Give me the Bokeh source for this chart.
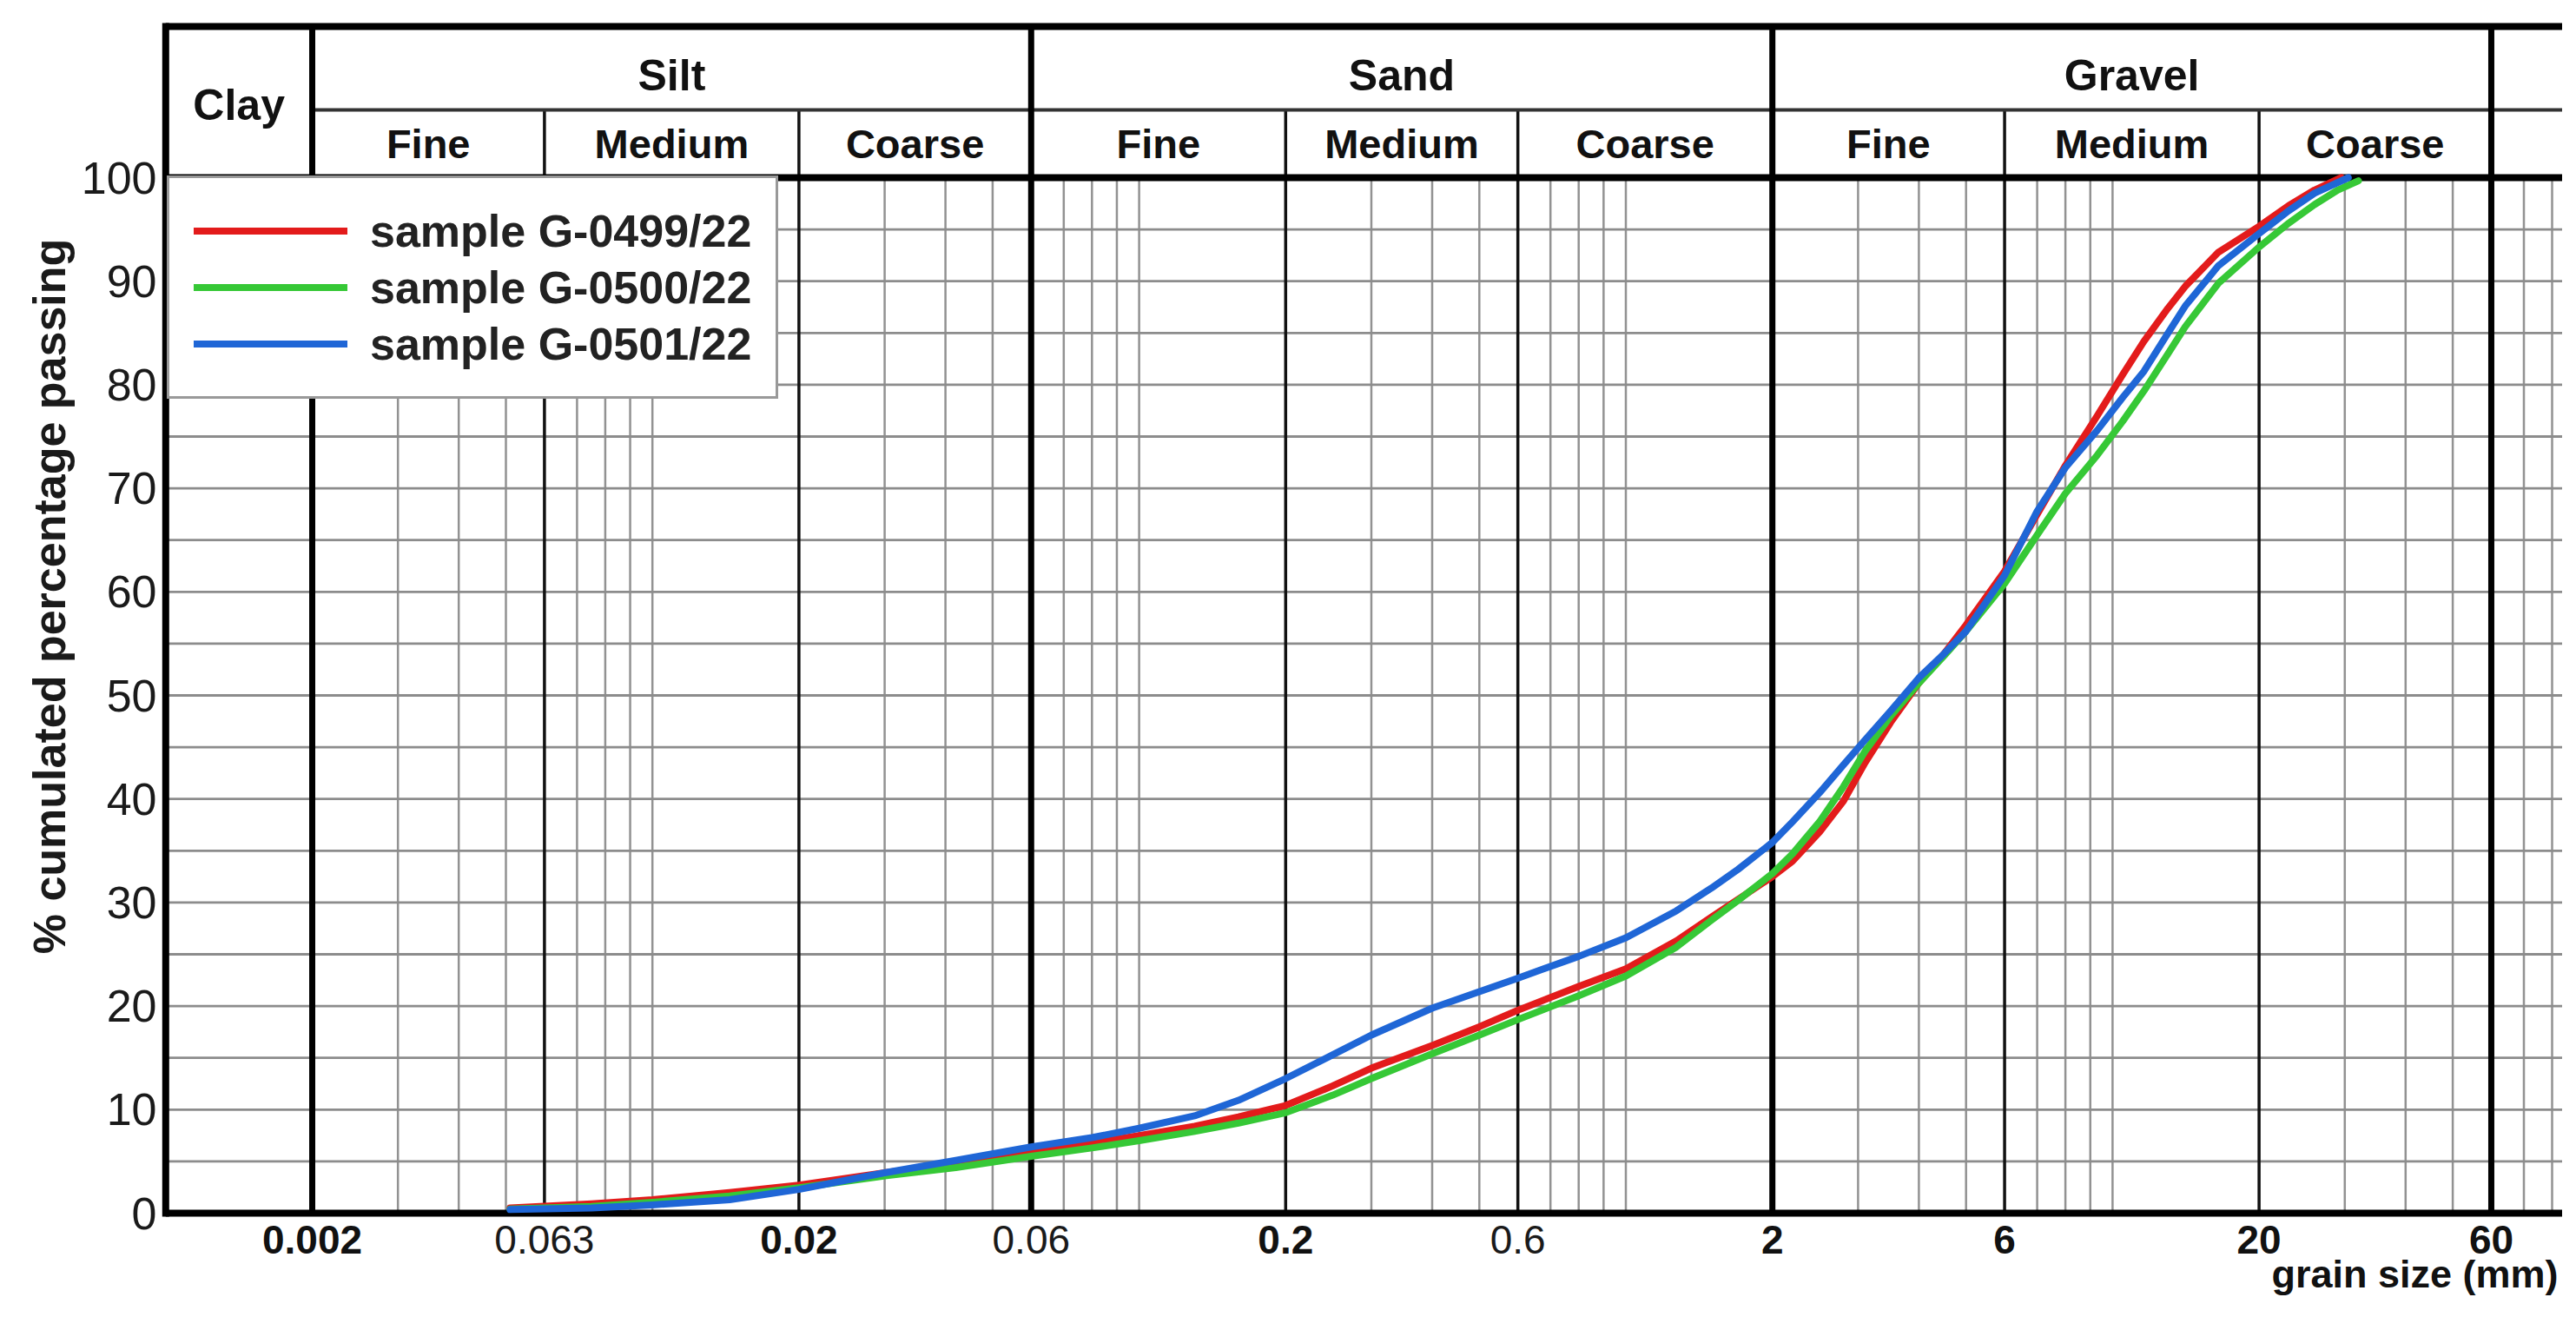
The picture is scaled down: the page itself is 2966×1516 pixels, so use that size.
import math
from bokeh.plotting import figure
from bokeh.models import Range1d, Legend, LegendItem
from bokeh.core.properties import value
from bokeh.embed import file_html
from bokeh.resources import INLINE

# ---------------- data (grain size in mm, cumulated % passing) ----------------
size_red = [0.0051, 0.0075, 0.01, 0.0144, 0.02, 0.03, 0.042, 0.06, 0.08, 0.1, 0.13, 0.16,
            0.2, 0.25, 0.3, 0.4, 0.5, 0.6, 0.8, 1.0, 1.27, 1.5, 1.7, 2.0, 2.2, 2.5, 2.8,
            3.1, 3.5, 4.0, 4.5, 5.0, 6.0, 7.0, 8.0, 9.3, 10.5, 11.6, 13.0, 14.1, 16.5,
            20.0, 23.0, 26.0, 29.5]
pass_red = [0.5, 0.9, 1.3, 2.0, 2.7, 3.9, 4.8, 6.0, 6.8, 7.5, 8.4, 9.3,
            10.4, 12.3, 14.0, 16.2, 18.0, 19.6, 21.9, 23.6, 26.3, 28.6, 30.3, 32.5, 34.0, 36.8, 39.8,
            43.5, 47.4, 51.2, 54.0, 56.8, 62.0, 67.5, 72.2, 77.0, 81.0, 84.2, 87.4, 89.5, 92.8,
            95.3, 97.3, 98.8, 100.0]

size_green = [0.0051, 0.0075, 0.01, 0.0144, 0.02, 0.03, 0.042, 0.06, 0.08, 0.1, 0.13, 0.16,
              0.2, 0.25, 0.3, 0.4, 0.5, 0.6, 0.8, 1.0, 1.27, 1.5, 1.7, 2.0, 2.2, 2.5, 2.8,
              3.1, 3.5, 4.0, 4.5, 5.0, 6.0, 7.0, 8.0, 9.3, 10.5, 11.6, 13.0, 14.1, 16.5,
              20.0, 23.0, 26.0, 29.0, 32.0]
pass_green = [0.4, 0.65, 1.05, 1.65, 2.45, 3.6, 4.4, 5.5, 6.3, 7.0, 7.9, 8.7,
              9.7, 11.4, 13.0, 15.4, 17.2, 18.7, 21.0, 22.9, 25.7, 28.3, 30.2, 32.8, 34.7, 37.8, 41.2,
              44.6, 48.0, 51.2, 53.8, 56.2, 60.8, 65.5, 69.5, 73.2, 76.5, 79.4, 83.0, 85.6, 89.8,
              93.3, 95.6, 97.4, 98.8, 99.7]

size_blue = [0.0051, 0.0075, 0.01, 0.0144, 0.02, 0.03, 0.042, 0.06, 0.08, 0.1, 0.13, 0.16,
             0.2, 0.25, 0.3, 0.4, 0.5, 0.6, 0.8, 1.0, 1.27, 1.5, 1.7, 2.0, 2.2, 2.5, 2.8,
             3.1, 3.5, 4.0, 4.5, 5.0, 6.0, 7.0, 8.0, 9.3, 10.5, 11.6, 13.0, 14.1, 16.5,
             20.0, 23.0, 26.0, 30.5]
pass_blue = [0.35, 0.5, 0.8, 1.3, 2.3, 3.9, 5.1, 6.4, 7.3, 8.2, 9.4, 10.9,
             13.0, 15.3, 17.2, 19.8, 21.4, 22.7, 24.8, 26.6, 29.2, 31.4, 33.2, 35.8, 37.8, 40.6, 43.3,
             45.7, 48.5, 51.7, 54.0, 56.2, 61.6, 67.8, 72.0, 75.6, 78.8, 81.3, 85.0, 87.6, 91.5,
             94.6, 96.8, 98.5, 100.0]

series_names = ["sample G-0499/22", "sample G-0500/22", "sample G-0501/22"]
series_colors = ["#e31b1b", "#36c836", "#1f66d6"]

y_ticks = [0, 10, 20, 30, 40, 50, 60, 70, 80, 90, 100]
x_ticks = [0.002, 0.006, 0.02, 0.06, 0.2, 0.6, 2, 6, 20, 60]
x_tick_labels = ["0.002", "0.063", "0.02", "0.06", "0.2", "0.6", "2", "6", "20", "60"]
x_tick_bold = [True, False, True, False, True, False, True, True, True, True]

class_names = ["Clay", "Silt", "Sand", "Gravel"]
class_bounds = [0.001, 0.002, 0.06, 2, 60]
sub_names = ["Fine", "Medium", "Coarse"]
sub_bounds = [0.002, 0.006, 0.02, 0.06, 0.2, 0.6, 2, 6, 20, 60]

# ---------------- geometry (pixels of the picture) ----------------
PX_DEC = 560.4          # pixels per decade on the grain-size axis
X0_PX, X0_VAL = 359.0, 0.002
Y0_PX, PX_PER_PCT = 1396.0, 11.92


def xv(px):
    return X0_VAL * 10 ** ((px - X0_PX) / PX_DEC)


def yv(py):
    return (Y0_PX - py) / PX_PER_PCT


W, H = 2950, 1500
x_lo, x_hi = xv(0), xv(W)
y_lo, y_hi = yv(H), yv(0)

FONT = value("Liberation Sans")

p = figure(width=W, height=H, x_axis_type="log", x_axis_location=None, y_axis_location=None,
           x_range=Range1d(x_lo, x_hi), y_range=Range1d(y_lo, y_hi),
           output_backend="svg", toolbar_location=None, min_border=0)
p.outline_line_color = None
p.xgrid.visible = False
p.ygrid.visible = False
p.background_fill_color = "white"

y_top = yv(30)      # top of header
y_split = yv(126)   # line between main classes and sub classes
x_left = class_bounds[0]

# minor log grid lines (vertical)
minor = []
for dec in [0.001, 0.01, 0.1, 1, 10]:
    for k in range(1, 10):
        v = round(k * dec, 6)
        if v < 0.0029 or v >= x_hi:
            continue
        if any(abs(v - b) / b < 1e-6 for b in sub_bounds):
            continue
        minor.append(v)
p.segment(x0=minor, y0=[0] * len(minor), x1=minor, y1=[100] * len(minor),
          line_color="#929292", line_width=2.5)

# horizontal grid every 5 %
hg = [v for v in range(5, 100, 5)]
p.segment(x0=[x_left] * len(hg), y0=hg, x1=[x_hi] * len(hg), y1=hg,
          line_color="#8c8c8c", line_width=2.8)

# sub-class lines
subs = [b for b in sub_bounds if b not in class_bounds]
p.segment(x0=subs, y0=[0] * len(subs), x1=subs, y1=[y_split] * len(subs),
          line_color="#111111", line_width=3.5)

# header split line
p.segment(x0=[class_bounds[1]], y0=[y_split], x1=[x_hi], y1=[y_split],
          line_color="#333333", line_width=4)

# class lines
cls = class_bounds[1:]
p.segment(x0=cls, y0=[0] * len(cls), x1=cls, y1=[y_top] * len(cls),
          line_color="black", line_width=7)

# frame: left, top, header bottom (100 %), bottom axis (0 %)
p.segment(x0=[x_left], y0=[yv(1400)], x1=[x_left], y1=[yv(26)], line_color="black", line_width=8)
p.segment(x0=[x_left, x_left, x_left], y0=[y_top, 100, 0], x1=[x_hi] * 3, y1=[y_top, 100, 0],
          line_color="black", line_width=8)

# curves
renderers = []
for xs, ys, col in [(size_red, pass_red, series_colors[0]),
                    (size_green, pass_green, series_colors[1]),
                    (size_blue, pass_blue, series_colors[2])]:
    r = p.line(xs, ys, line_color=col, line_width=8, line_join="round", line_cap="round")
    renderers.append(r)


def logmid(a, b):
    return math.sqrt(a * b)


# header texts
main_x = [logmid(class_bounds[i], class_bounds[i + 1]) for i in range(4)]
p.text(x=main_x[:1], y=[yv(120)], text=class_names[:1], text_font=FONT,
       text_font_style="bold", text_font_size=value("50px"), text_color="#111111",
       text_align="center", text_baseline="middle")
p.text(x=main_x[1:], y=[yv(86)] * 3, text=class_names[1:], text_font=FONT,
       text_font_style="bold", text_font_size=value("50px"), text_color="#111111",
       text_align="center", text_baseline="middle")
sub_x = [logmid(sub_bounds[i], sub_bounds[i + 1]) for i in range(len(sub_bounds) - 1)]
sub_t = sub_names * 3
p.text(x=sub_x, y=[yv(165)] * len(sub_x), text=sub_t, text_font=FONT,
       text_font_style="bold", text_font_size=value("47px"), text_color="#111111",
       text_align="center", text_baseline="middle")

# y tick labels
p.text(x=[xv(180)] * len(y_ticks), y=y_ticks, text=[str(t) for t in y_ticks], text_font=FONT,
       text_font_size=value("52px"), text_color="#1a1a1a",
       text_align="right", text_baseline="middle")

# y axis title
p.text(x=[xv(56)], y=[yv(686)], text=["% cumulated percentage passing"], text_font=FONT,
       text_font_style="bold", text_font_size=value("52px"), text_color="#1a1a1a",
       angle=math.pi / 2, text_align="center", text_baseline="middle")

# x tick labels
bx = [x for x, b in zip(x_ticks, x_tick_bold) if b]
bl = [t for t, b in zip(x_tick_labels, x_tick_bold) if b]
nx = [x for x, b in zip(x_ticks, x_tick_bold) if not b]
nl = [t for t, b in zip(x_tick_labels, x_tick_bold) if not b]
p.text(x=bx, y=[yv(1426)] * len(bx), text=bl, text_font=FONT, text_font_style="bold",
       text_font_size=value("46px"), text_color="#111111",
       text_align="center", text_baseline="middle")
p.text(x=nx, y=[yv(1426)] * len(nx), text=nl, text_font=FONT,
       text_font_size=value("46px"), text_color="#1a1a1a",
       text_align="center", text_baseline="middle")

# x axis title
p.text(x=[xv(2945)], y=[yv(1466)], text=["grain size (mm)"], text_font=FONT,
       text_font_style="bold", text_font_size=value("45px"), text_color="#111111",
       text_align="right", text_baseline="middle")

# legend
LEG_TOP, LEG_H = 208, 251
legend = Legend(items=[LegendItem(label=n, renderers=[r]) for n, r in zip(series_names, renderers)],
                location=(192, H - LEG_TOP - LEG_H))
legend.label_text_font = "Liberation Sans"
legend.label_text_font_style = "bold"
legend.label_text_font_size = "52px"
legend.label_text_color = "#222222"
legend.glyph_width = 177
legend.glyph_height = 65
legend.label_height = 65
legend.label_standoff = 26
legend.spacing = 0
legend.padding = 28
legend.margin = 0
legend.border_line_color = "#333333"
legend.border_line_width = 3
legend.background_fill_color = "white"
legend.background_fill_alpha = 1.0
p.add_layout(legend)

open("out.html", "w").write(file_html(p, INLINE))
